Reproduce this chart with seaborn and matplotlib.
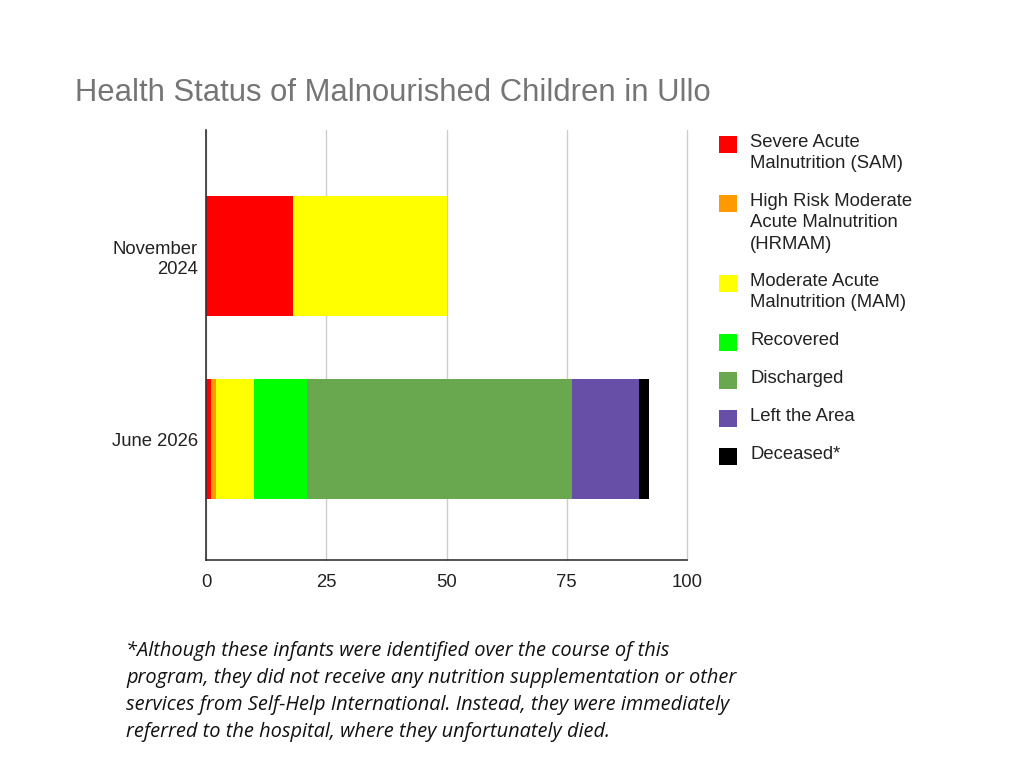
import numpy as np
import pandas as pd
import matplotlib.pyplot as plt
import seaborn as sns
from matplotlib.patches import Rectangle

# data
months = ["November\n2024", "June 2026"]
series = ["Severe Acute\nMalnutrition (SAM)",
          "High Risk Moderate\nAcute Malnutrition\n(HRMAM)",
          "Moderate Acute\nMalnutrition (MAM)",
          "Recovered", "Discharged", "Left the Area", "Deceased*"]
sam = [18, 1]
hrmam = [0, 1]
mam = [32, 8]
recovered = [0, 11]
discharged = [0, 55]
left_area = [0, 14]
deceased = [0, 2]
colors = ["#ff0000", "#ff9900", "#ffff00", "#00ff00", "#6aa84f", "#674ea7", "#000000"]
xticks = [0, 25, 50, 75, 100]

footnote = ("*Although these infants were identified over the course of this\n"
            "program, they did not receive any nutrition supplementation or other\n"
            "services from Self-Help International. Instead, they were immediately\n"
            "referred to the hospital, where they unfortunately died.")

df = pd.DataFrame({"month": months, "s0": sam, "s1": hrmam, "s2": mam, "s3": recovered,
                   "s4": discharged, "s5": left_area, "s6": deceased})
cols = ["s0", "s1", "s2", "s3", "s4", "s5", "s6"]
cum = df[cols].cumsum(axis=1)

sns.set_style("white")
plt.rcParams['font.family'] = ['Liberation Sans', 'DejaVu Sans']

W, H = 1024, 781
fig = plt.figure(figsize=(W / 100, H / 100), dpi=100)
ax = fig.add_axes([206 / W, 1 - 560 / H, (687 - 206) / W, (560 - 130) / H])

# stacked bars: draw cumulative totals from last to first
for i in range(len(cols) - 1, -1, -1):
    sns.barplot(x=cum[cols[i]], y=df["month"], orient="h", color=colors[i],
                width=0.656, ax=ax, saturation=1, linewidth=0)

ax.set_xlim(0, 100)
ax.set_ylim(1.66, -0.69)
ax.set_xticks(xticks)
ax.set_xticklabels([str(t) for t in xticks], fontsize=13.3, color="#222222")
ax.tick_params(axis="y", labelsize=13.3, colors="#222222", length=0, pad=6)
ax.tick_params(axis="x", length=0, pad=10)
ax.set_xlabel("")
ax.set_ylabel("")
ax.grid(axis="x", color="#cccccc", linewidth=1)
for gl in ax.get_xgridlines():
    gl.set_clip_on(False)
ax.set_axisbelow(True)
for s in ["top", "right"]:
    ax.spines[s].set_visible(False)
for s in ["left", "bottom"]:
    ax.spines[s].set_color("#333333")
    ax.spines[s].set_linewidth(1.2)

fig.text(75 / W, 1 - 93 / H, "Health Status of Malnourished Children in Ullo",
         fontsize=22.3, color="#757575", va="center", ha="left")

# legend drawn by hand so each square sits on the first line of its label
y = 141
for name, c in zip(series, colors):
    fig.patches.append(Rectangle(((719) / W, 1 - (y + 12) / H), 18 / W, 17 / H,
                                 transform=fig.transFigure, facecolor=c, edgecolor="none"))
    fig.text(750 / W, 1 - (y - 7) / H, name, fontsize=13.3, color="#222222",
             va="top", ha="left", linespacing=1.33)
    y += 21 * (name.count("\n") + 1) + 17

fig.text(126 / W, 1 - 641 / H, footnote, fontsize=14.4, fontfamily="Open Sans",
         style="italic", color="#111111", va="top", ha="left", linespacing=1.47)

fig.savefig("out.png", dpi=100)
